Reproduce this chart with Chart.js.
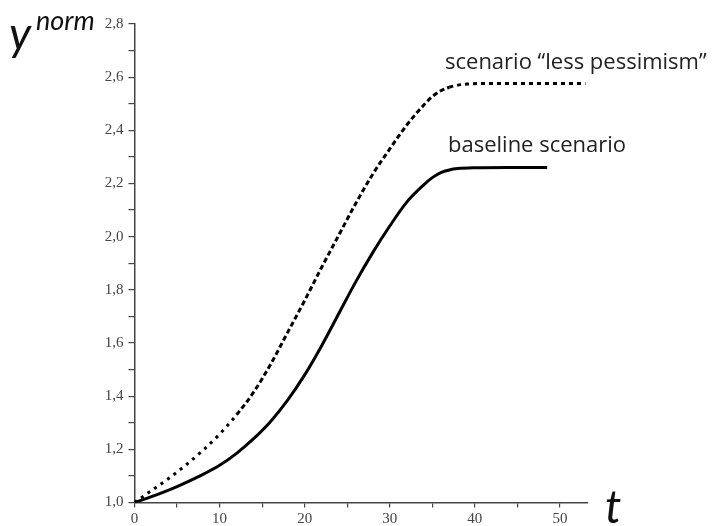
<!DOCTYPE html>
<html>
<head>
<meta charset="utf-8">
<script src="https://cdn.jsdelivr.net/npm/chart.js@4"></script>
<style>
  html, body { margin: 0; padding: 0; background: #fff; }
  #wrap { position: relative; width: 718px; height: 526px; }
</style>
</head>
<body>
<div id="wrap"><canvas id="chart" width="718" height="526"></canvas></div>
<script>
// Baseline scenario (solid line)
const tBase = [0, 2, 5, 8, 10, 12, 14, 16, 18, 20, 22, 24, 26, 28, 30, 32, 34, 35, 36, 37, 38, 40, 44, 48.5];
const yBase = [1.0, 1.022, 1.06, 1.105, 1.14, 1.185, 1.24, 1.305, 1.385, 1.48, 1.59, 1.71, 1.83, 1.94, 2.04, 2.13, 2.195, 2.222, 2.241, 2.251, 2.256, 2.259, 2.26, 2.26];

// Scenario "less pessimism" (dotted / dashed line)
const tLess = [0, 2, 4, 6, 8, 10, 12, 14, 16, 18, 20, 22, 24, 26, 28, 30, 32, 34, 35, 36, 37, 38, 39, 41, 45, 53];
const yLess = [1.0, 1.045, 1.09, 1.14, 1.195, 1.257, 1.33, 1.415, 1.52, 1.64, 1.76, 1.885, 2.005, 2.125, 2.235, 2.33, 2.42, 2.495, 2.527, 2.549, 2.562, 2.57, 2.574, 2.576, 2.576, 2.576];

// Axis ranges / ticks
const xRange = [0, 53.3];
const yRange = [1.0, 2.8];
const xStep = 5;
const yStep = 0.1;

const toPoints = (xs, ys) => xs.map((x, i) => ({ x: x, y: ys[i] }));

const axisColor = "#444";
const tickFont = { family: "Liberation Serif", size: 15 };

// dotted at the start, short dashes on the steep part, dots again on the plateau
function lessDash(ctx) {
  const t = ctx.p0.parsed.x;
  if (t < 12) return [3, 5];
  if (t < 37) return [5, 3];
  return [4, 4];
}

// Draw curve labels and axis names
const labelsPlugin = {
  id: "labels",
  afterDraw(chart) {
    const ctx = chart.ctx;
    ctx.save();
    ctx.fillStyle = "#222";
    ctx.textBaseline = "alphabetic";
    ctx.textAlign = "left";

    ctx.font = "22px 'Open Sans'";
    ctx.fillText("scenario \u201cless pessimism\u201d", 445, 69);
    ctx.fillText("baseline scenario", 448, 152);

    ctx.fillStyle = "#111";
    ctx.font = "italic 46px Lato";
    ctx.fillText("y", 9, 50);
    ctx.font = "italic 27px Lato";
    ctx.fillText("norm", 36, 30);
    ctx.font = "italic 46px Lato";
    ctx.fillText("t", 605, 523);
    ctx.restore();
  },
};

new Chart(document.getElementById("chart"), {
  type: "line",
  data: {
    datasets: [
      {
        label: "baseline scenario",
        data: toPoints(tBase, yBase),
        borderColor: "#000",
        borderWidth: 3,
        pointRadius: 0,
        cubicInterpolationMode: "monotone",
      },
      {
        label: "scenario \u201cless pessimism\u201d",
        data: toPoints(tLess, yLess),
        borderColor: "#000",
        borderWidth: 3,
        pointRadius: 0,
        cubicInterpolationMode: "monotone",
        segment: { borderDash: lessDash },
      },
    ],
  },
  options: {
    responsive: false,
    animation: false,
    layout: { padding: { top: 24, right: 130, left: 0, bottom: 0 } },
    plugins: {
      legend: { display: false },
      tooltip: { enabled: false },
    },
    scales: {
      x: {
        type: "linear",
        min: xRange[0],
        max: xRange[1],
        afterFit: (s) => { s.height = 23.5; },
        ticks: {
          stepSize: xStep,
          includeBounds: false,
          autoSkip: false,
          maxRotation: 0,
          padding: 3,
          color: "#444",
          font: tickFont,
          callback: (v) => (Math.round(v) % 10 === 0 ? String(Math.round(v)) : ""),
        },
        grid: { drawOnChartArea: false, tickLength: 5, color: axisColor, lineWidth: 1.2 },
        border: { color: axisColor, width: 1.5 },
      },
      y: {
        min: yRange[0],
        max: yRange[1],
        afterFit: (s) => { s.width = 134.5; },
        ticks: {
          stepSize: yStep,
          autoSkip: false,
          padding: 5,
          color: "#444",
          font: tickFont,
          callback: (v) => {
            const k = Math.round(v * 10);
            return k % 2 === 0 ? (k / 10).toFixed(1).replace(".", ",") : "";
          },
        },
        grid: { drawOnChartArea: false, tickLength: 6, color: axisColor, lineWidth: 1.2 },
        border: { color: axisColor, width: 1.5 },
      },
    },
  },
  plugins: [labelsPlugin],
});
</script>
</body>
</html>
